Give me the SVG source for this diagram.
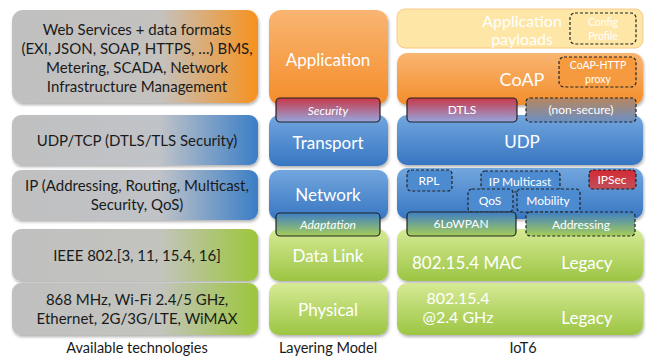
<svg xmlns="http://www.w3.org/2000/svg" width="646" height="356" viewBox="0 0 646 356">
<defs>
<filter id="sh" x="-10%" y="-10%" width="120%" height="130%"><feDropShadow dx="1" dy="2" stdDeviation="1.5" flood-color="#000" flood-opacity="0.3"/></filter>
<linearGradient id="gOr" x1="0" y1="0" x2="1" y2="0"><stop offset="0" stop-color="#C0C0C0"/><stop offset="0.6" stop-color="#C4C2BF"/><stop offset="1" stop-color="#F7921E"/></linearGradient>
<linearGradient id="gBl" x1="0" y1="0" x2="1" y2="0"><stop offset="0" stop-color="#C0C0C0"/><stop offset="0.6" stop-color="#C0C3C8"/><stop offset="1" stop-color="#3A7EC6"/></linearGradient>
<linearGradient id="gGr" x1="0" y1="0" x2="1" y2="0"><stop offset="0" stop-color="#C0C0C0"/><stop offset="0.6" stop-color="#C3C4BE"/><stop offset="1" stop-color="#9CC63A"/></linearGradient>
<linearGradient id="vOr" x1="0" y1="0" x2="0" y2="1"><stop offset="0" stop-color="#F9B572"/><stop offset="1" stop-color="#F48D2A"/></linearGradient>
<linearGradient id="vBl" x1="0" y1="0" x2="0" y2="1"><stop offset="0" stop-color="#72A6DE"/><stop offset="1" stop-color="#3776C2"/></linearGradient>
<linearGradient id="vGr" x1="0" y1="0" x2="0" y2="1"><stop offset="0" stop-color="#D6EA95"/><stop offset="1" stop-color="#9CC543"/></linearGradient>
<linearGradient id="vSec" x1="0" y1="0" x2="0" y2="1"><stop offset="0" stop-color="#C83848"/><stop offset="1" stop-color="#96A6DE"/></linearGradient>
<linearGradient id="vNs" x1="0" y1="0" x2="0" y2="1"><stop offset="0" stop-color="#B8865E"/><stop offset="1" stop-color="#6A90C4"/></linearGradient>
<linearGradient id="vAd" x1="0" y1="0" x2="0" y2="1"><stop offset="0" stop-color="#3E7EC4"/><stop offset="1" stop-color="#A6CE58"/></linearGradient>
<linearGradient id="vIps" x1="0" y1="0" x2="0" y2="1"><stop offset="0" stop-color="#D42A35"/><stop offset="1" stop-color="#C0505A"/></linearGradient>
</defs>
<style>
.t{font-family:Lato,"Open Sans","Liberation Sans",sans-serif;text-anchor:middle}
.st{text-anchor:start}
.l{fill:#1A1A1A;font-size:15px}
.w{fill:#FFFFFF;font-size:17px}
.w2{fill:#FFFFFF;font-size:16px}
.s{fill:#FFFFFF;font-size:12px}
.xs{fill:#FFFFFF;font-size:10.5px}
.i{fill:#FFFFFF;font-size:12px;font-style:italic}
.cap{fill:#1A1A1A;font-size:14.5px}
.dash{stroke:#222;stroke-width:1.2;stroke-dasharray:3 2}
.solid{stroke:#222;stroke-width:1.2}
</style>

<g id="tech">
<g id="tech-app"><rect x="12" y="10" width="246" height="93" rx="11" fill="url(#gOr)" filter="url(#sh)"/>
<text class="t l" x="137" y="35">Web Services + data formats</text>
<text class="t l" x="137" y="54">(EXI, JSON, SOAP, HTTPS, …) BMS,</text>
<text class="t l" x="137" y="73">Metering, SCADA, Network</text>
<text class="t l" x="137" y="92">Infrastructure Management</text></g>
<g id="tech-transport"><rect x="12" y="115" width="246" height="50" rx="9" fill="url(#gBl)" filter="url(#sh)"/>
<text class="t l" x="137" y="146">UDP/TCP (DTLS/TLS Security)</text></g>
<g id="tech-network"><rect x="12" y="170" width="246" height="50" rx="9" fill="url(#gBl)" filter="url(#sh)"/>
<text class="t l" x="137" y="191">IP (Addressing, Routing, Multicast,</text>
<text class="t l" x="137" y="210">Security, QoS)</text></g>
<g id="tech-link"><rect x="12" y="229" width="246" height="52" rx="9" fill="url(#gGr)" filter="url(#sh)"/>
<text class="t l" x="137" y="261">IEEE 802.[3, 11, 15.4, 16]</text></g>
<g id="tech-phy"><rect x="12" y="283" width="246" height="52" rx="9" fill="url(#gGr)" filter="url(#sh)"/>
<text class="t l" x="137" y="305">868 MHz, Wi-Fi 2.4/5 GHz,</text>
<text class="t l" x="137" y="324">Ethernet, 2G/3G/LTE, WiMAX</text></g>
<text class="t cap" x="137" y="353">Available technologies</text>
</g>

<g id="model">
<g id="m-app"><rect x="269" y="10" width="119" height="95" rx="12" fill="url(#vOr)" filter="url(#sh)"/>
<text class="t w" x="328" y="66">Application</text></g>
<g id="m-transport"><rect x="269" y="115" width="119" height="51" rx="10" fill="url(#vBl)" filter="url(#sh)"/>
<text class="t w" x="328" y="149">Transport</text></g>
<g id="m-network"><rect x="269" y="170" width="119" height="50" rx="10" fill="url(#vBl)" filter="url(#sh)"/>
<text class="t w" x="328" y="201">Network</text></g>
<g id="m-link"><rect x="269" y="229" width="119" height="52" rx="10" fill="url(#vGr)" filter="url(#sh)"/>
<text class="t w" x="328" y="262">Data Link</text></g>
<g id="m-phy"><rect x="269" y="283" width="119" height="52" rx="10" fill="url(#vGr)" filter="url(#sh)"/>
<text class="t w" x="328" y="316">Physical</text></g>
<g id="m-sec"><rect x="276" y="98" width="104" height="24" rx="4" fill="url(#vSec)" class="solid"/>
<text class="t i" x="328" y="115">Security</text></g>
<g id="m-adapt"><rect x="276" y="213" width="104" height="23" rx="4" fill="url(#vAd)" class="solid"/>
<text class="t i" x="328" y="229">Adaptation</text></g>
<text class="t cap" x="328" y="353">Layering Model</text>
</g>

<g id="iot6">
<g id="i-payload"><rect x="397" y="9" width="246" height="39" rx="8" fill="#FEE6A6" stroke="#F8C98C" stroke-width="1"/>
<text class="t w2" x="522" y="27">Application</text>
<text class="t w2" x="522" y="45">payloads</text></g>
<g id="i-config"><rect x="570" y="13" width="66" height="31" rx="5" fill="none" class="dash"/>
<text class="t xs" x="603" y="26">Config</text>
<text class="t xs" x="603" y="40">Profile</text></g>
<g id="i-coap"><rect x="397" y="53" width="246" height="52" rx="10" fill="url(#vOr)" filter="url(#sh)"/>
<text class="t" x="522" y="86" fill="#fff" font-size="18">CoAP</text></g>
<g id="i-proxy"><rect x="559" y="57" width="77" height="30" rx="5" fill="#F59A3E" class="dash"/>
<text class="t xs" x="598" y="69">CoAP-HTTP</text>
<text class="t xs" x="598" y="83">proxy</text></g>
<g id="i-udp"><rect x="397" y="115" width="246" height="50" rx="10" fill="url(#vBl)" filter="url(#sh)"/>
<text class="t w" x="522" y="148">UDP</text></g>
<g id="i-net"><rect x="397" y="168" width="246" height="51" rx="10" fill="url(#vBl)" filter="url(#sh)"/></g>
<g id="i-link"><rect x="397" y="229" width="246" height="52" rx="10" fill="url(#vGr)" filter="url(#sh)"/>
<text class="t st w" x="412" y="269">802.15.4 MAC</text>
<text class="t w" x="587" y="269">Legacy</text></g>
<g id="i-phy"><rect x="397" y="283" width="246" height="52" rx="10" fill="url(#vGr)" filter="url(#sh)"/>
<text class="t w2" x="458" y="304">802.15.4</text>
<text class="t w2" x="458" y="323">@2.4 GHz</text>
<text class="t w" x="587" y="324">Legacy</text></g>
<g id="i-dtls"><rect x="407" y="98" width="110" height="24" rx="4" fill="url(#vSec)" class="solid"/>
<text class="t s" x="462" y="114">DTLS</text></g>
<g id="i-nonsec"><rect x="526" y="98" width="110" height="24" rx="4" fill="url(#vNs)" class="dash"/>
<text class="t s" x="581" y="114">(non-secure)</text></g>
<g id="i-rpl"><rect x="407" y="170" width="45" height="21" rx="4" fill="#4D8BD0" class="dash"/>
<text class="t s" x="429" y="185">RPL</text></g>
<g id="i-mcast"><rect x="481" y="171" width="79" height="21" rx="4" fill="#4D8BD0" class="dash"/>
<text class="t s" x="520" y="186">IP Multicast</text></g>
<g id="i-ipsec"><rect x="589" y="170" width="47" height="19" rx="4" fill="url(#vIps)" class="dash"/>
<text class="t s" x="612" y="184">IPSec</text></g>
<g id="i-qos"><rect x="468" y="189" width="45" height="23" rx="4" fill="#4D8BD0" class="dash"/>
<text class="t s" x="490" y="205">QoS</text></g>
<g id="i-mob"><rect x="517" y="189" width="63" height="23" rx="4" fill="#4D8BD0" class="dash"/>
<text class="t s" x="548" y="205">Mobility</text></g>
<g id="i-6lo"><rect x="407" y="212" width="109" height="24" rx="4" fill="url(#vAd)" class="solid"/>
<text class="t s" x="461" y="228">6LoWPAN</text></g>
<g id="i-addr"><rect x="526" y="212" width="109" height="24" rx="4" fill="url(#vAd)" class="dash"/>
<text class="t s" x="581" y="229" font-size="13">Addressing</text></g>
<text class="t cap" x="523" y="353">IoT6</text>
</g>
<g id="connectors"/>
</svg>
